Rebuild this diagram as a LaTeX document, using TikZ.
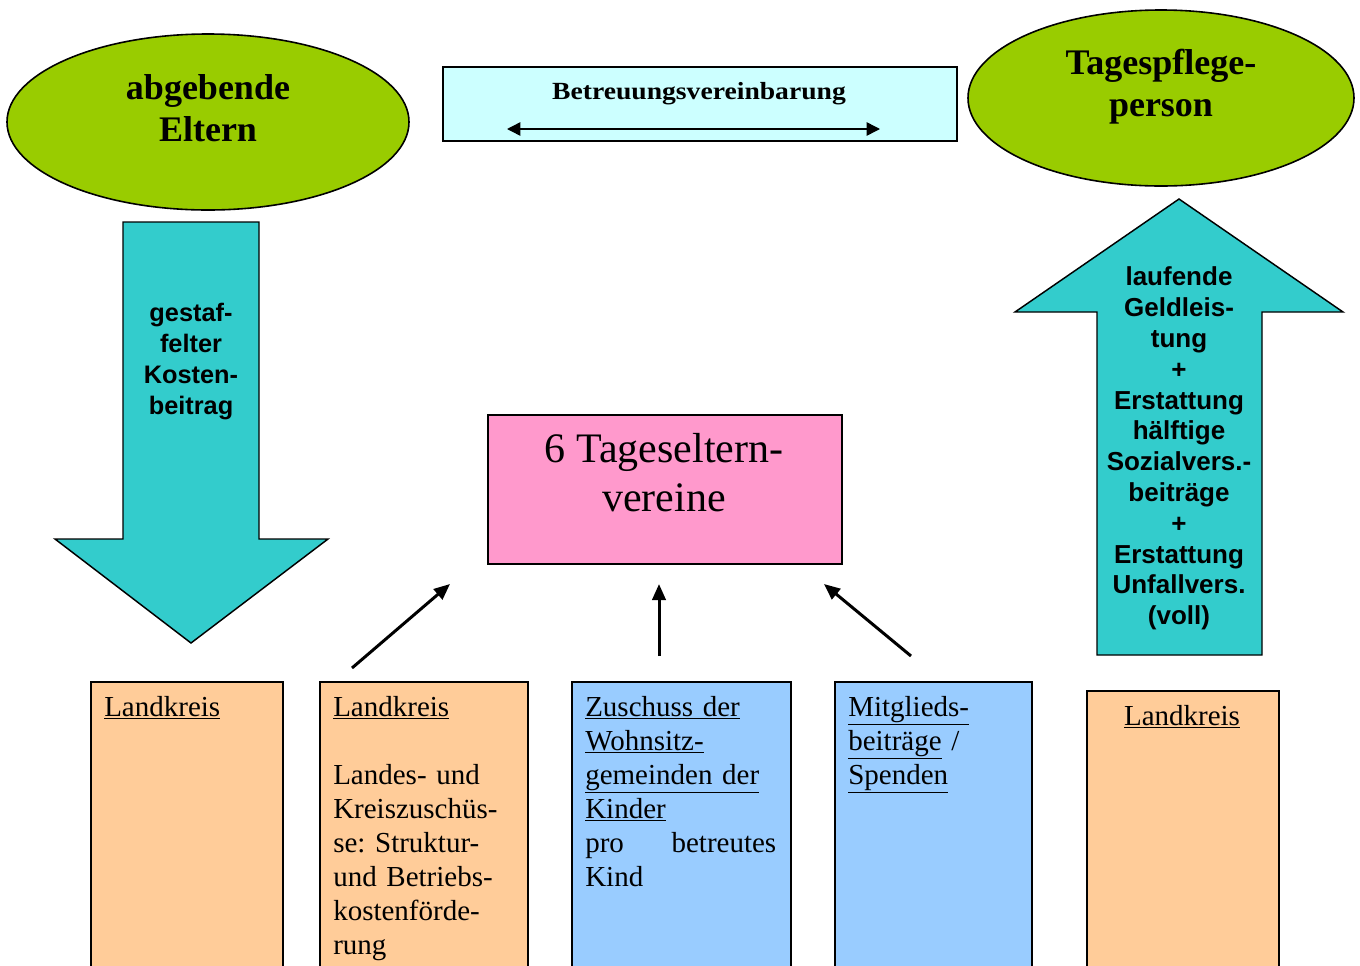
\documentclass[tikz,border=0pt]{standalone}
\usepackage{fontspec}
\setmainfont{Liberation Serif}
\setsansfont{Liberation Sans}
\usetikzlibrary{shapes.geometric,arrows.meta}
\definecolor{elli}{HTML}{99CC00}
\definecolor{turq}{HTML}{33CCCC}
\definecolor{lcyan}{HTML}{CCFFFF}
\definecolor{pink}{HTML}{FF99CC}
\definecolor{orng}{HTML}{FFCC99}
\definecolor{lblue}{HTML}{99CCFF}
\frenchspacing
\begin{document}
\begin{tikzpicture}[x=0.75pt,y=-0.75pt,
  ell/.style={ellipse,draw=black,line width=1.2pt,fill=elli,inner sep=0pt},
  elltext/.style={align=center,inner sep=0pt,font=\bfseries\fontsize{27}{31.5}\selectfont},
  rbox/.style={draw=black,line width=1.2pt,inner sep=0pt,anchor=north west},
  blockarrow/.style={draw=black,line width=1.1pt,fill=turq,line join=miter},
  arrtext/.style={align=center,inner sep=0pt,font=\sffamily\bfseries\fontsize{19}{23.25}\selectfont},
  bottext/.style={inner sep=0pt,anchor=base west,align=left,font=\frenchspacing\fontsize{21.75}{25.5}\selectfont},
  conn/.style={line width=2.25pt,-{Triangle[length=12pt,width=10pt]}}
]
\clip (0,0) rectangle (1360,965);
\fill[white] (0,0) rectangle (1360,965);

% ellipses
\node[ell,minimum width=301.5pt,minimum height=132pt] (eltern) at (208,122) {};
\node[elltext] (elterntxt) at (208,108.5) {abgebende\\Eltern};
\node[ell,minimum width=289.5pt,minimum height=132pt] (tpp) at (1161,98) {};
\node[elltext] (tpptxt) at (1161,86.5) {Tagespflege-\\person};

% top box
\node[rbox,fill=lcyan,minimum width=385.5pt,minimum height=55.5pt] (bv) at (442,66) {};
\node[inner sep=0pt,anchor=base] (bvtxt) at (699,99)
  {\scalebox{1.12}[1]{\bfseries\fontsize{18.5}{21}\selectfont Betreuungsvereinbarung}};
\coordinate (bvl) at (507,129);
\coordinate (bvr) at (880,129);
\draw[line width=1.1pt,{Triangle[length=10pt,width=10pt]}-{Triangle[length=10pt,width=10pt]}] (bvl) -- (bvr);

% block arrows
\draw[blockarrow] (123,222) -- (259,222) -- (259,539) -- (328,539) -- (191,643) -- (55,539) -- (123,539) -- cycle;
\node[arrtext] (kb) at (191,361) {gestaf-\\felter\\Kosten-\\beitrag};
\draw[blockarrow] (1179,199) -- (1343,312) -- (1262,312) -- (1262,655) -- (1097,655) -- (1097,312) -- (1015,312) -- cycle;
\node[arrtext,font=\sffamily\bfseries\fontsize{19.5}{23.1}\selectfont] (gl) at (1179,448.5)
  {laufende\\Geldleis-\\tung\\+\\Erstattung\\hälftige\\Sozialvers.-\\beiträge\\+\\Erstattung\\Unfallvers.\\(voll)};

% pink box
\node[rbox,fill=pink,minimum width=265.5pt,minimum height=111.75pt] (tv) at (487,414) {};
\node[align=center,inner sep=0pt,font=\fontsize{31.5}{36.75}\selectfont] (tvtxt) at (664,472.5) {6 Tageseltern-\\vereine};

% bottom boxes
\node[rbox,fill=orng,minimum width=144pt,minimum height=220.5pt] (b1) at (90,681) {};
\node[rbox,fill=orng,minimum width=156pt,minimum height=220.5pt] (b2) at (319,681) {};
\node[rbox,fill=lblue,minimum width=164.25pt,minimum height=220.5pt] (b3) at (571,681) {};
\node[rbox,fill=lblue,minimum width=147.75pt,minimum height=220.5pt] (b4) at (834,681) {};
\node[rbox,fill=orng,minimum width=144pt,minimum height=213.75pt] (b5) at (1086,690) {};

\node[bottext] (b1t) at (104,716) {\underline{Landkreis}};
\node[bottext,text width=135pt] (b2t) at (333,716) {\underline{Landkreis}\\[25.5pt]Landes- und\\Kreiszuschüs-\\se: Struktur-\\und Betriebs-\\kostenförde-\\rung};
\node[bottext,text width=143.25pt] (b3t) at (585,716)
  {\underline{Zuschuss der}\\\underline{Wohnsitz-}\\\underline{gemeinden der}\\\underline{Kinder}\\\leavevmode\hbox to 143.25pt{pro\hfill betreutes}\\Kind};
\node[bottext,text width=127.5pt] (b4t) at (848,716) {\underline{Mitglieds-}\\\underline{beiträge} /\\\underline{Spenden}};
\node[bottext,anchor=base] (b5t) at (1182,725) {\underline{Landkreis}};

% connectors
\coordinate (c1s) at (352,668); \coordinate (c1e) at (450,584);
\coordinate (c2s) at (659,656); \coordinate (c2e) at (659,584);
\coordinate (c3s) at (911,656); \coordinate (c3e) at (824,584);
\draw[conn] (c1s) -- (c1e);
\draw[conn] (c2s) -- (c2e);
\draw[conn] (c3s) -- (c3e);
\end{tikzpicture}
\end{document}
